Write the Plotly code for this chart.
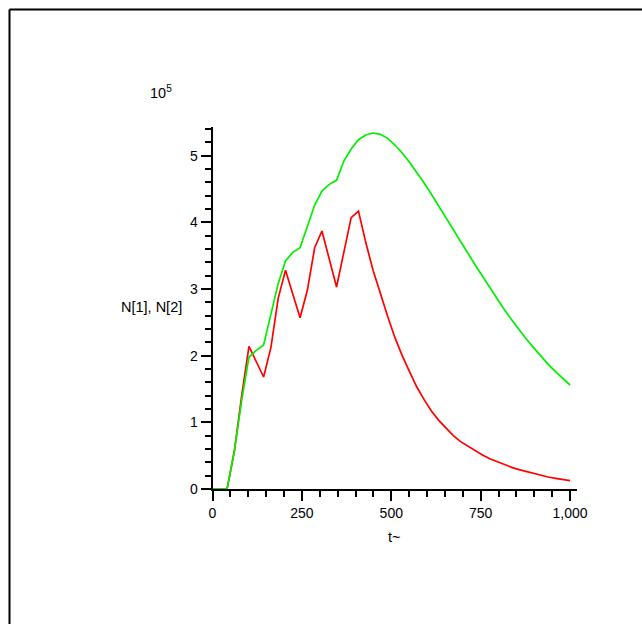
import plotly.graph_objects as go

# Time grid (t~) and the two populations, in units of 10^5
t = [0.0, 20.4, 40.8, 61.2, 81.6, 102.0, 122.4, 142.9, 163.3, 183.7,
     204.1, 224.5, 244.9, 265.3, 285.7, 306.1, 326.5, 346.9, 367.3, 387.8,
     408.2, 428.6, 449.0, 469.4, 489.8, 510.2, 530.6, 551.0, 571.4, 591.8,
     612.2, 632.7, 653.1, 673.5, 693.9, 714.3, 734.7, 755.1, 775.5, 795.9,
     816.3, 836.7, 857.1, 877.6, 898.0, 918.4, 938.8, 959.2, 979.6, 1000.0]

n1 = [0, 0, 0, 0.57, 1.40, 2.14, 1.91, 1.68, 2.12, 2.86,
      3.28, 2.92, 2.57, 2.98, 3.62, 3.87, 3.45, 3.03, 3.55, 4.07,
      4.17, 3.70, 3.28, 2.92, 2.59, 2.27, 2.00, 1.76, 1.53, 1.34,
      1.17, 1.03, 0.91, 0.80, 0.71, 0.64, 0.57, 0.51, 0.455, 0.41,
      0.365, 0.325, 0.29, 0.26, 0.235, 0.205, 0.18, 0.16, 0.14, 0.125]

n2 = [0, 0, 0, 0.57, 1.33, 1.98, 2.08, 2.16, 2.60, 3.08,
      3.42, 3.55, 3.62, 3.94, 4.26, 4.47, 4.57, 4.63, 4.92, 5.10,
      5.24, 5.31, 5.34, 5.32, 5.26, 5.16, 5.04, 4.90, 4.75, 4.59,
      4.42, 4.24, 4.06, 3.88, 3.71, 3.53, 3.36, 3.19, 3.02, 2.85,
      2.69, 2.54, 2.39, 2.25, 2.12, 1.99, 1.87, 1.76, 1.66, 1.56]

W, H = 642, 624
FONT = "Liberation Sans, Arial, sans-serif"


def px(x):
    """Pixel column -> paper fraction."""
    return x / W


def py(y):
    """Pixel row (from top) -> paper fraction."""
    return 1 - y / H


fig = go.Figure()
fig.add_trace(go.Scatter(x=t, y=n1, mode="lines", name="N[1]",
                         line=dict(color="#ff0000", width=1.7)))
fig.add_trace(go.Scatter(x=t, y=n2, mode="lines", name="N[2]",
                         line=dict(color="#00f000", width=1.7)))

axis_common = dict(
    showline=True, linecolor="black", linewidth=2,
    ticks="outside", ticklen=10, tickwidth=1.5, tickcolor="black",
    showgrid=False, zeroline=False, automargin=False,
    tickfont=dict(family=FONT, size=14, color="black"),
)

fig.update_layout(
    width=W, height=H,
    margin=dict(l=0, r=0, t=0, b=0, pad=0, autoexpand=False),
    paper_bgcolor="white", plot_bgcolor="white",
    showlegend=False,
    xaxis=dict(
        domain=[px(212.5), px(576.5)], range=[0, 1018],
        tick0=0, dtick=250, tickformat=",",
        minor=dict(dtick=50, ticks="outside", ticklen=6, tickwidth=1.5,
                   tickcolor="black"),
        **axis_common,
    ),
    yaxis=dict(
        domain=[py(489), py(127)], range=[0, 5.43],
        tick0=0, dtick=1,
        minor=dict(dtick=0.2, ticks="outside", ticklen=6, tickwidth=1.5,
                   tickcolor="black"),
        **axis_common,
    ),
    annotations=[
        dict(text="10<sup>5</sup>", x=px(148), y=py(103), xref="paper",
             yref="paper", xanchor="left", yanchor="bottom", showarrow=False,
             font=dict(family=FONT, size=14.5, color="black")),
        dict(text="N[1], N[2]", x=px(151.5), y=py(307), xref="paper",
             yref="paper", xanchor="center", yanchor="middle",
             showarrow=False,
             font=dict(family=FONT, size=14.5, color="black")),
        dict(text="t~", x=px(394), y=py(537), xref="paper", yref="paper",
             xanchor="center", yanchor="middle", showarrow=False,
             font=dict(family=FONT, size=14.5, color="black")),
    ],
    shapes=[
        dict(type="line", xref="paper", yref="paper",
             x0=px(9.5), y0=py(9.5), x1=1.0, y1=py(9.5),
             line=dict(color="black", width=2)),
        dict(type="line", xref="paper", yref="paper",
             x0=px(9.5), y0=py(9.5), x1=px(9.5), y1=0.0,
             line=dict(color="black", width=2)),
    ],
)

fig.write_html("out.html")
